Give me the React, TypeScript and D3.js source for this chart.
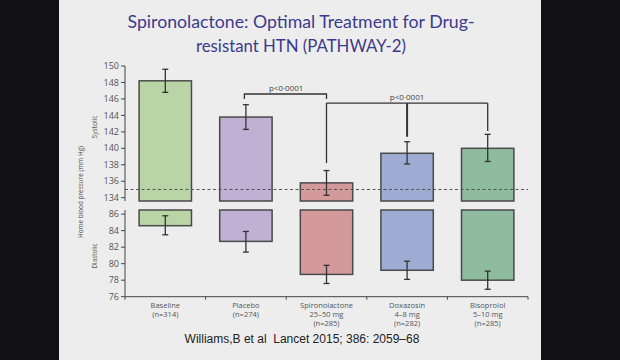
import React from "react";
import * as d3 from "d3";

const categories = ["Baseline", "Placebo", "Spironolactone", "Doxazosin", "Bisoprolol"];
const doseLabels = ["", "", "25–50 mg", "4–8 mg", "5–10 mg"];
const nLabels = ["(n=314)", "(n=274)", "(n=285)", "(n=282)", "(n=285)"];
const systolic = [148.2, 143.8, 135.8, 139.4, 140.0];
const systolicHi = [149.6, 145.3, 137.3, 140.8, 141.7];
const systolicLo = [146.8, 142.3, 134.3, 138.1, 138.4];
const diastolic = [84.6, 82.7, 78.7, 79.2, 78.0];
const diastolicHi = [85.8, 83.9, 79.8, 80.3, 79.1];
const diastolicLo = [83.5, 81.4, 77.6, 78.1, 76.9];
const barColors = ["#b9d5a6", "#c2b0d4", "#d49a9b", "#9eabd2", "#8fbc9e"];
const systolicTicks = [134, 136, 138, 140, 142, 144, 146, 148, 150];
const diastolicTicks = [76, 78, 80, 82, 84, 86];
const targetSystolic = 135;
const titleLines = ["Spironolactone: Optimal Treatment for Drug-", "resistant HTN (PATHWAY-2)"];
const citation = "Williams,B et al  Lancet 2015; 386: 2059–68";
// significance brackets (systolic units)
const pLabel = "p<0·0001";
const bracket1 = { from: 1, to: 2, level: 146.6, tickEnd: 146.0 };
const bracket2 = { groups: [2, 3, 4], level: 145.5, dropEnds: [138.2, 141.4, 142.1] };

export default function App() {
  const W = 620, H = 360;
  const x = d3.scaleBand<string>().domain(categories).range([125, 528]).paddingInner(0.35).paddingOuter(0.175);
  const ySys = d3.scaleLinear().domain([133.6, 150]).range([201, 66]);
  const yDia = d3.scaleLinear().domain([76, 86.5]).range([296.7, 210]);
  const bw = x.bandwidth();
  const cx = (i: number) => (x(categories[i]) as number) + bw / 2;
  const axisX = 125;
  const txt = "#555";
  const font = "'Open Sans', sans-serif";
  const cap = 3;

  const errBar = (xc: number, y1: number, y2: number, key: string) => (
    <g key={key} stroke="#333" strokeWidth={1.3}>
      <line x1={xc} x2={xc} y1={y1} y2={y2} />
      <line x1={xc - cap} x2={xc + cap} y1={y1} y2={y1} />
      <line x1={xc - cap} x2={xc + cap} y1={y2} y2={y2} />
    </g>
  );

  const boundaries = [0, 1, 2, 3, 4, 5].map((i) => x.range()[0] + x.step() * i);

  return (
    <svg width={W} height={H} style={{ position: "absolute", left: 0, top: 0 }}>
      <rect x={0} y={0} width={W} height={H} fill="#111113" />
      <rect x={59} y={0} width={482} height={H} fill="#ededed" />
      {titleLines.map((t, i) => (
        <text key={t} x={301} y={i === 0 ? 28.3 : 52} textAnchor="middle" fontFamily="Lato, 'Open Sans', sans-serif"
          fontSize={18} fill="#3c3a8c" textLength={i === 0 ? 347 : 210} lengthAdjust="spacingAndGlyphs">{t}</text>
      ))}

      {/* bars */}
      {categories.map((c, i) => (
        <g key={c}>
          <rect x={x(c)} y={ySys(systolic[i])} width={bw} height={ySys(133.6) - ySys(systolic[i])}
            fill={barColors[i]} stroke="#4a4a4a" strokeWidth={1.5} />
          <rect x={x(c)} y={yDia(86.5)} width={bw} height={yDia(diastolic[i]) - yDia(86.5)}
            fill={barColors[i]} stroke="#4a4a4a" strokeWidth={1.5} />
        </g>
      ))}

      {/* dashed target line */}
      <line x1={axisX} x2={528} y1={ySys(targetSystolic)} y2={ySys(targetSystolic)} stroke="#555" strokeWidth={1} strokeDasharray="3,2.5" />

      {/* error bars */}
      {categories.map((c, i) => errBar(cx(i), ySys(systolicHi[i]), ySys(systolicLo[i]), "s" + c))}
      {categories.map((c, i) => errBar(cx(i), yDia(diastolicHi[i]), yDia(diastolicLo[i]), "d" + c))}

      {/* y axis */}
      <g stroke="#444" strokeWidth={1}>
        <line x1={axisX} x2={axisX} y1={ySys(150)} y2={ySys(133.6)} />
        <line x1={axisX} x2={axisX} y1={yDia(86.5)} y2={yDia(76)} />
        {systolicTicks.map((t) => <line key={"st" + t} x1={axisX - 4} x2={axisX} y1={ySys(t)} y2={ySys(t)} />)}
        {diastolicTicks.map((t) => <line key={"dt" + t} x1={axisX - 4} x2={axisX} y1={yDia(t)} y2={yDia(t)} />)}
        <line x1={axisX} x2={528} y1={yDia(76)} y2={yDia(76)} />
        {boundaries.map((b) => <line key={"xb" + b} x1={b} x2={b} y1={yDia(76)} y2={yDia(76) + 3} />)}
      </g>
      {systolicTicks.map((t) => (
        <text key={"sl" + t} x={axisX - 6} y={ySys(t)} dy="0.35em" textAnchor="end" fontSize={9} fontFamily={font} fill={txt}>{t}</text>
      ))}
      {diastolicTicks.map((t) => (
        <text key={"dl" + t} x={axisX - 6} y={yDia(t)} dy="0.35em" textAnchor="end" fontSize={9} fontFamily={font} fill={txt}>{t}</text>
      ))}
      <text transform="translate(83,192) rotate(-90)" textAnchor="middle" fontSize={7.5} fontFamily={font} fill={txt}
        textLength={92} lengthAdjust="spacingAndGlyphs">Home blood pressure (mm Hg)</text>
      <text transform="translate(97,127) rotate(-90)" textAnchor="middle" fontSize={8} fontFamily={font} fill={txt}
        textLength={23} lengthAdjust="spacingAndGlyphs">Systolic</text>
      <text transform="translate(97,256) rotate(-90)" textAnchor="middle" fontSize={8} fontFamily={font} fill={txt}
        textLength={25} lengthAdjust="spacingAndGlyphs">Diastolic</text>

      {/* x labels */}
      {categories.map((c, i) => {
        const lines = [c, doseLabels[i], nLabels[i]].filter((s) => s !== "");
        return lines.map((l, j) => (
          <text key={"xl" + c + j} x={cx(i)} y={308 + j * 9} textAnchor="middle" fontSize={7.5} fontFamily={font} fill={txt}>{l}</text>
        ));
      })}

      {/* brackets */}
      <g stroke="#333" fill="none" strokeWidth={1.3}>
        <path d={`M${cx(bracket1.from) - 1.5},${ySys(bracket1.tickEnd)}V${ySys(bracket1.level)}H${cx(bracket1.to)}V${ySys(bracket1.tickEnd)}`} />
        <line x1={cx(bracket2.groups[0])} x2={cx(bracket2.groups[2])} y1={ySys(bracket2.level)} y2={ySys(bracket2.level)} />
        {bracket2.groups.map((g, k) => (
          <line key={"b2" + g} x1={cx(g)} x2={cx(g)} y1={ySys(bracket2.level)} y2={ySys(bracket2.dropEnds[k])} strokeWidth={k === 1 ? 2 : 1.3} />
        ))}
      </g>
      <text x={(cx(bracket1.from) + cx(bracket1.to)) / 2} y={ySys(bracket1.level) - 3} textAnchor="middle" fontSize={8} fontFamily={font} fill="#444">{pLabel}</text>
      <text x={cx(bracket2.groups[1])} y={ySys(bracket2.level) - 3} textAnchor="middle" fontSize={8} fontFamily={font} fill="#444">{pLabel}</text>

      <text x={302} y={342.5} textAnchor="middle" fontSize={12} fontFamily="'Liberation Sans', Arial, sans-serif" fill="#222"
        xmlSpace="preserve" style={{ whiteSpace: "pre" }}>{citation}</text>
    </svg>
  );
}
